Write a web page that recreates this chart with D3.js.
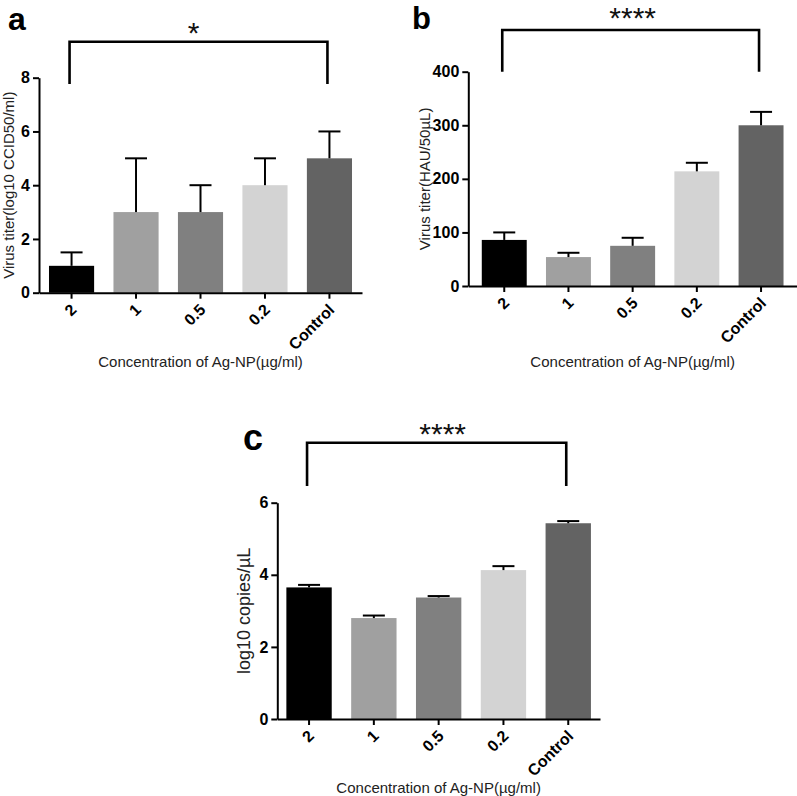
<!DOCTYPE html>
<html><head><meta charset="utf-8">
<script src="https://cdn.jsdelivr.net/npm/d3@7"></script>
<style>
body{margin:0;background:#fff}
svg text{font-family:"Liberation Sans",Arial,Helvetica,sans-serif}
</style>
</head><body>
<svg id="fig" width="797" height="796"></svg>
<script>
// ---- data ----
const categories = ["2", "1", "0.5", "0.2", "Control"];
const barColors = ["#000000", "#a0a0a0", "#808080", "#d3d3d3", "#636363"];

const titerA = [1, 3, 3, 4, 5];
const errA = [0.5, 2, 1, 1, 1];
const ticksA = [0, 2, 4, 6, 8];

const titerB = [86, 54, 75, 214, 300];
const errB = [14, 8, 15, 16, 25];
const ticksB = [0, 100, 200, 300, 400];

const copiesC = [3.65, 2.80, 3.37, 4.13, 5.43];
const errC = [0.07, 0.07, 0.04, 0.11, 0.06];
const ticksC = [0, 2, 4, 6];

const xTitle = "Concentration of Ag-NP(µg/ml)";
const panelLabels = ["a", "b", "c"];
const yTitles = ["Virus titer(log10 CCID50/ml)", "Virus titer(HAU/50µL)", "log10 copies/µL"];
const sigMarks = ["*", "****", "****"];

// ---- layout (positions / styles) ----
const panels = [
  {values: titerA, err: errA, ticks: ticksA, left: 39, right: 362, top: 77.7, bottom: 292.7, outer: 0.155,
   brTop: 41.7, brBot: 84, starDx: -5, starY: 43, lab: [8, 29.5], labSize: 32, yTitleX: 13.5, yTitleSize: 15, xTitleY: 367},
  {values: titerB, err: errB, ticks: ticksB, left: 468.3, right: 797, top: 71.7, bottom: 286, outer: 0.21,
   brTop: 30, brBot: 71.7, starDx: 2, starY: 28, lab: [412, 28.5], labSize: 31, yTitleX: 429.5, yTitleSize: 15, xTitleY: 367},
  {values: copiesC, err: errC, ticks: ticksC, left: 277.3, right: 600, top: 502.7, bottom: 719, outer: 0.14,
   brTop: 442.7, brBot: 486, starDx: 6, starY: 443.5, lab: [243, 450], labSize: 36, yTitleX: 249.6, yTitleSize: 18, xTitleY: 793}
];

const svg = d3.select("#fig");
svg.append("rect").attr("width", 797).attr("height", 796).attr("fill", "#fff");

panels.forEach((p, i) => {
  const g = svg.append("g");
  const x = d3.scaleBand().domain(categories).range([p.left, p.right])
    .paddingInner(0.3).paddingOuter(p.outer);
  const y = d3.scaleLinear().domain([0, d3.max(p.ticks)]).range([p.bottom, p.top]);

  // bars
  g.selectAll("rect.bar").data(categories).join("rect")
    .attr("class", "bar")
    .attr("x", d => x(d))
    .attr("width", x.bandwidth())
    .attr("y", (d, k) => y(p.values[k]))
    .attr("height", (d, k) => y(0) - y(p.values[k]))
    .attr("fill", (d, k) => barColors[k]);

  // error bars (upper only)
  const capW = 22;
  categories.forEach((d, k) => {
    const cx = x(d) + x.bandwidth() / 2;
    const y0 = y(p.values[k]), y1 = y(p.values[k] + p.err[k]);
    g.append("line").attr("x1", cx).attr("x2", cx).attr("y1", y0).attr("y2", y1)
      .attr("stroke", "#000").attr("stroke-width", 2);
    g.append("line").attr("x1", cx - capW / 2).attr("x2", cx + capW / 2).attr("y1", y1).attr("y2", y1)
      .attr("stroke", "#000").attr("stroke-width", 2);
  });

  // y axis
  const ya = g.append("g").attr("transform", `translate(${p.left},0)`)
    .call(d3.axisLeft(y).tickValues(p.ticks).tickSize(6).tickSizeOuter(0).tickPadding(3).tickFormat(d3.format("d")));
  ya.select(".domain").attr("stroke-width", 2);
  ya.selectAll(".tick line").attr("stroke-width", 2);
  ya.selectAll(".tick text").attr("font-size", 16).attr("font-weight", "bold").attr("fill", "#000")
    .style("font-family", '"Liberation Sans",Arial,sans-serif');

  // x axis
  const xa = g.append("g").attr("transform", `translate(0,${p.bottom})`)
    .call(d3.axisBottom(x).tickSize(6).tickSizeOuter(0));
  xa.select(".domain").attr("stroke-width", 2);
  xa.selectAll(".tick line").attr("stroke-width", 2);
  xa.selectAll(".tick text")
    .attr("font-size", 16).attr("font-weight", "bold").attr("fill", "#000")
    .style("font-family", '"Liberation Sans",Arial,sans-serif')
    .attr("text-anchor", "end")
    .attr("x", 0).attr("y", 0).attr("dy", "0.71em")
    .attr("transform", "translate(-2,10) rotate(-45)");

  // titles
  g.append("text").attr("x", (p.left + p.right) / 2).attr("y", p.xTitleY)
    .attr("text-anchor", "middle").attr("font-size", 15).attr("fill", "#222").text(xTitle);
  g.append("text")
    .attr("transform", `translate(${p.yTitleX},${(p.top + p.bottom) / 2}) rotate(-90)`)
    .attr("text-anchor", "middle").attr("font-size", p.yTitleSize).attr("fill", "#222").text(yTitles[i]);

  // panel label
  g.append("text").attr("x", p.lab[0]).attr("y", p.lab[1]).attr("font-size", p.labSize)
    .attr("font-weight", "bold").attr("fill", "#000").text(panelLabels[i]);

  // significance bracket
  const bx1 = x(categories[0]) + x.bandwidth() / 2 - 2;
  const bx2 = x(categories[categories.length - 1]) + x.bandwidth() / 2 - 2;
  g.append("path")
    .attr("d", `M${bx1},${p.brBot}V${p.brTop}H${bx2}V${p.brBot}`)
    .attr("fill", "none").attr("stroke", "#000").attr("stroke-width", 2.6);
  g.append("text").attr("x", (bx1 + bx2) / 2 + p.starDx).attr("y", p.starY)
    .attr("text-anchor", "middle").attr("font-size", 30).attr("fill", "#111").text(sigMarks[i]);
});
</script>
</body></html>
